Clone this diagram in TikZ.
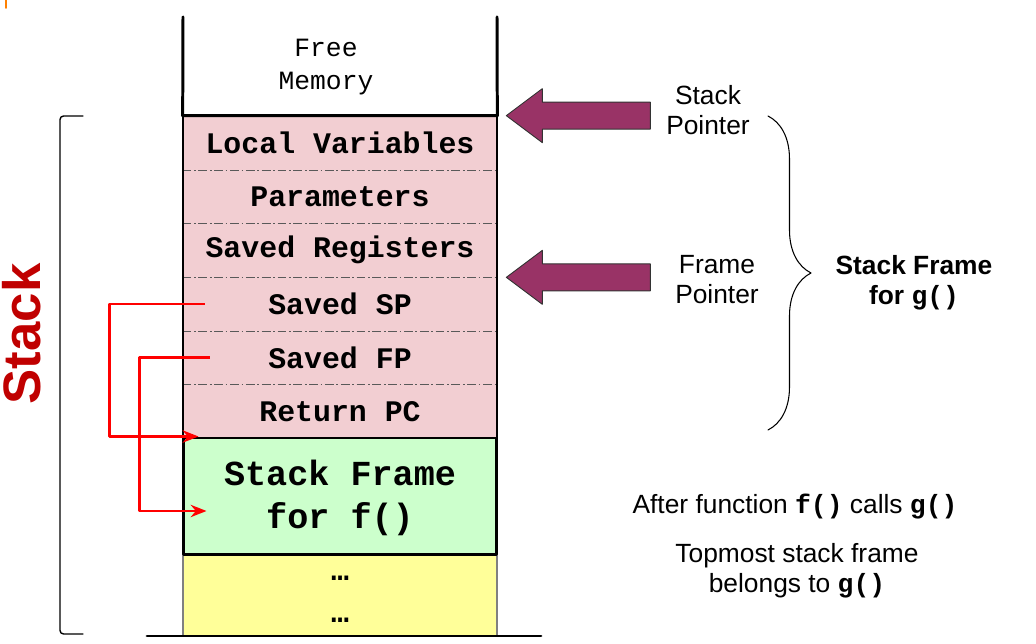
\documentclass[tikz,border=0pt]{standalone}
\usepackage{fontspec}
\setmainfont{Liberation Sans}
\setmonofont{Liberation Mono}
\usetikzlibrary{positioning,decorations.pathreplacing,arrows.meta}
\definecolor{slotpink}{RGB}{242,206,210}
\definecolor{framegreen}{RGB}{204,255,204}
\definecolor{oldyellow}{RGB}{255,255,153}
\definecolor{ptrmaroon}{RGB}{153,51,102}
\definecolor{stackred}{RGB}{192,0,0}
\begin{document}
\begin{tikzpicture}[x=0.02cm,y=-0.02cm,line join=round,line cap=round,>=Stealth,
	wall/.style={line width=1.7pt},
	slot/.style={fill=slotpink,minimum width=6.28cm,minimum height=1.0733cm,inner sep=0pt,font=\ttfamily\bfseries\fontsize{17}{20}\selectfont},
	divider/.style={gray!70!black,line width=0.5pt,line cap=butt,dash pattern=on 5pt off 1.5pt on 1pt off 1.5pt},
	ptr/.style={red,line width=1.5pt,line cap=butt,-{Stealth[length=9pt,width=7pt]}},
	bigptr/.style={fill=ptrmaroon,draw=black!80,line width=0.5pt},
	side/.style={align=center,font=\fontsize{15}{17}\selectfont}]
			\useasboundingbox (0,0) rectangle (1036,644);
			\draw[orange,line width=1pt] (6,0) -- (6,8);
			\node[align=center,font=\ttfamily\fontsize{15}{18.5}\selectfont] (free) at (326,67) {Free\\Memory};
			\node[fill=oldyellow,draw=gray,line width=0.8pt,minimum width=6.28cm,minimum height=1.62cm] (older) at (340,595.5) {};
			\node[font=\ttfamily\bfseries\fontsize{17}{20}\selectfont] (dotsa) at (340,578) {…};
			\node[font=\ttfamily\bfseries\fontsize{17}{20}\selectfont] (dotsb) at (340,620) {…};
			\foreach \name/\txt [count=\i from 0] in {lv/Local Variables,par/Parameters,reg/Saved Registers,ssp/Saved SP,sfp/Saved FP,rpc/Return PC}
			\node[slot] (\name) at (340,{142.83+53.67*\i}) {\txt};
			\foreach \name in {lv,par,reg,ssp,sfp} \draw[divider] (\name.south west) -- (\name.south east);
			\draw[line width=1pt] (lv.north west) rectangle (rpc.south east);
			\node[draw,wall,fill=framegreen,minimum width=6.28cm,minimum height=2.34cm,align=center,font=\ttfamily\bfseries\fontsize{20}{24.4}\selectfont] (fframe) at (340,496.5) {\rule{0pt}{16pt}Stack Frame\\for f()};
			\draw[wall] (183,17) -- (lv.north west) -- (lv.north east) -- (497,17);
			\draw[wall] (147,636) -- (541,636);
			\foreach \tip in {lv.north east,reg.south east}
			\draw[bigptr] ([xshift=0.18cm]\tip) -- ++(36,-27) -- ++(0,13.5) -- ++(108,0) -- ++(0,27) -- ++(-108,0) -- ++(0,13.5) -- cycle;
			\node[side] (splabel) at (708,110) {Stack\\Pointer};
			\node[side] (fplabel) at (717,280) {Frame\\Pointer};
			\draw[line width=0.6pt,decorate,decoration={brace,amplitude=0.86cm}] (768,116) -- (768,430);
			\node[side,font=\bfseries\fontsize{15}{17}\selectfont] (gframe) at (914,283) {Stack Frame\\for \texttt{g()}};
			\node[side] (callnote) at (795,507) {After function \texttt{\textbf{f()}} calls \texttt{\textbf{g()}}};
			\node[side] (topnote) at (797,571) {Topmost stack frame\\belongs to \texttt{\textbf{g()}}};
			\draw[line width=0.8pt,rounded corners=2pt] (83,116) -- (60,116) -- (60,634) -- (83,634);
			\node[rotate=90,text=stackred,font=\bfseries\fontsize{30}{36}\selectfont] (stacklabel) at (22,334) {Stack};
			\coordinate (spsrc) at ([xshift=0.44cm]ssp.west);
			\coordinate (fpsrc) at ([xshift=0.54cm]sfp.west);
			\draw[ptr] (spsrc) -- ++(-95,0) |- ([xshift=0.34cm]fframe.north west);
			\draw[ptr] (fpsrc) -- ++(-70,0) |- ([xshift=0.5cm,yshift=-0.29cm]fframe.west);
\end{tikzpicture}
\end{document}
